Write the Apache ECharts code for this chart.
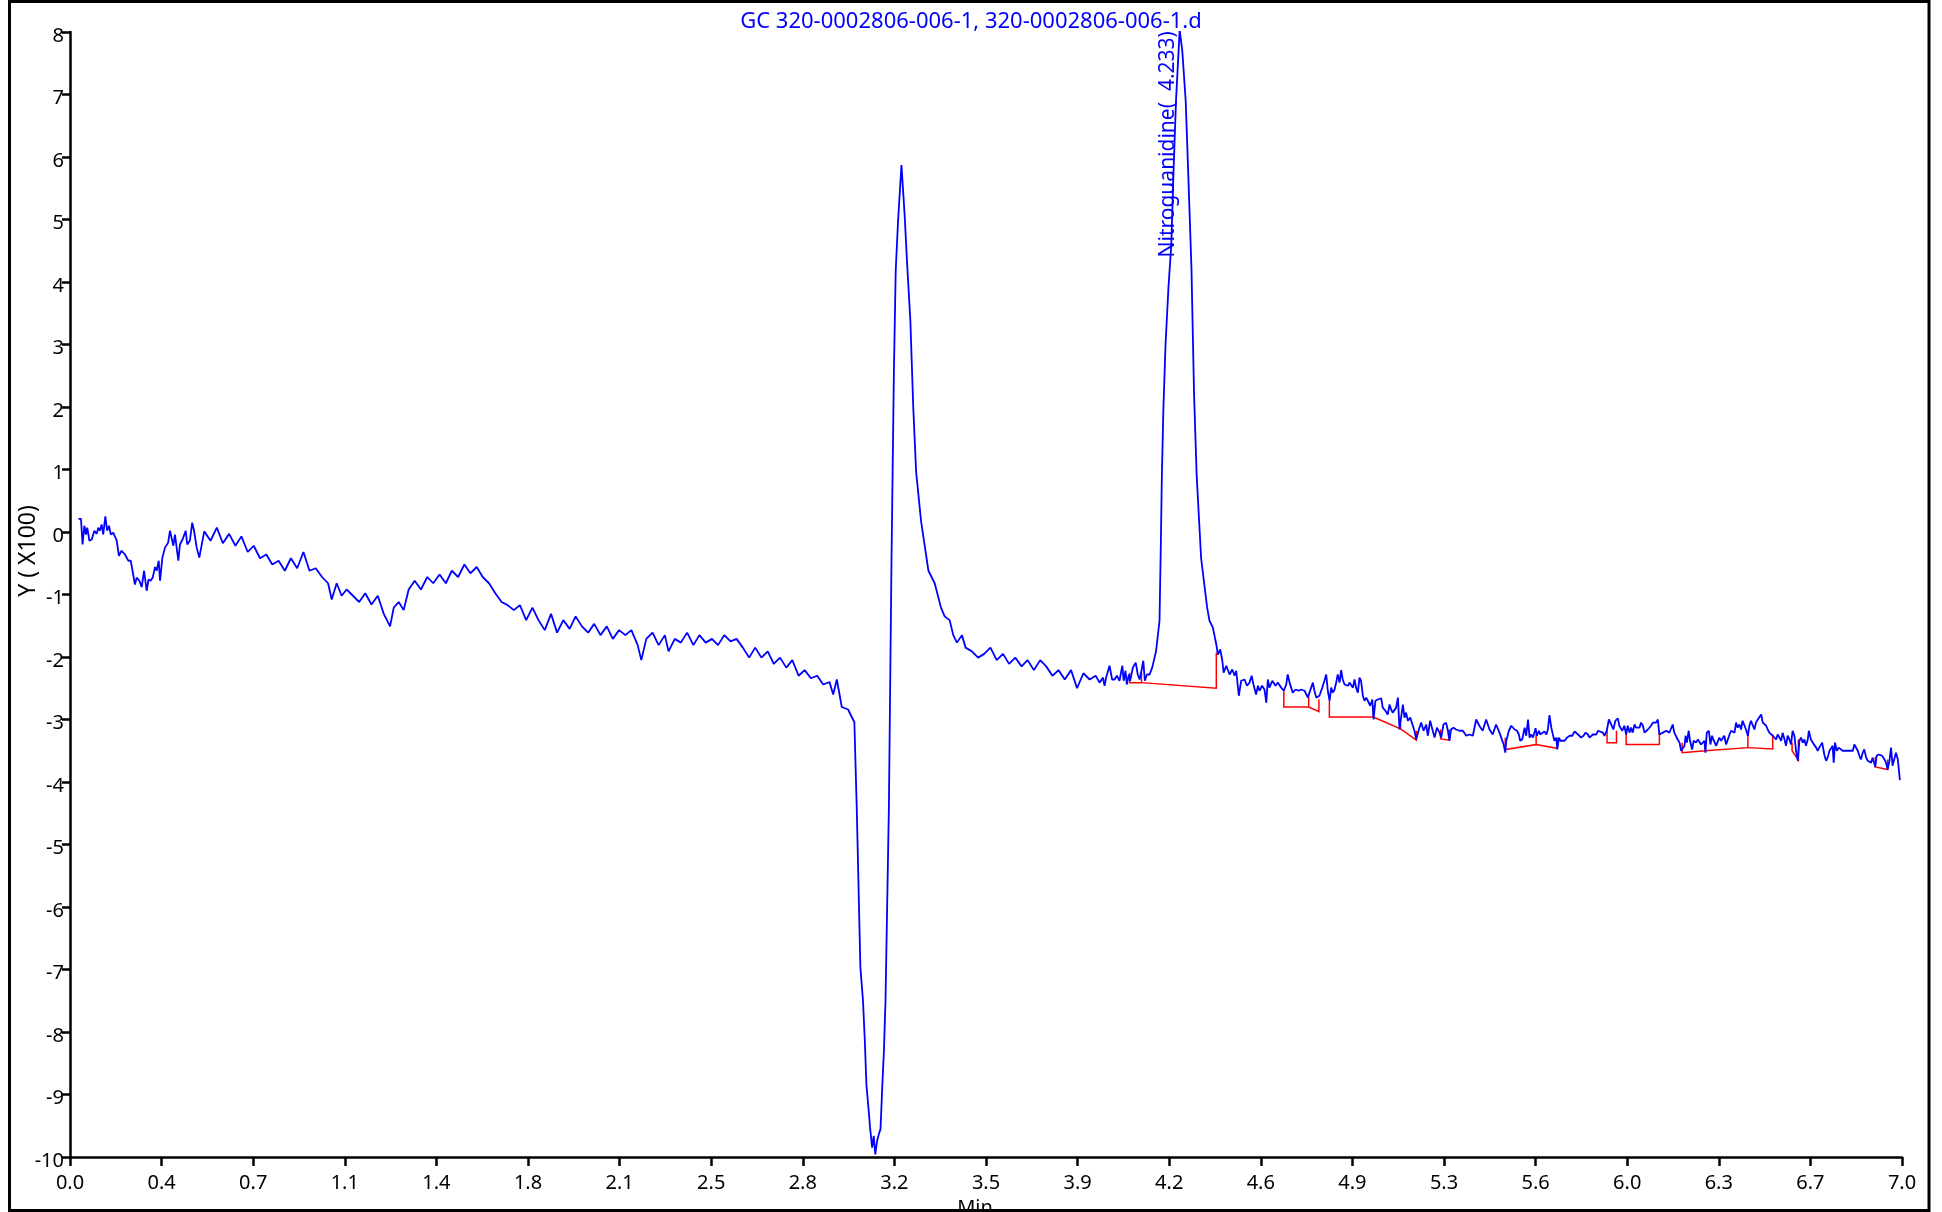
<!DOCTYPE html>
<html><head><meta charset="utf-8">
<script src="https://cdn.jsdelivr.net/npm/echarts@6/dist/echarts.min.js"></script>
<style>html,body{margin:0;padding:0;background:#fff}#c{width:1942px;height:1212px}</style>
</head><body><div id="c"></div>
<script>
const FONT = 'Noto Sans';
const titleText = 'GC 320-0002806-006-1, 320-0002806-006-1.d';
const peakLabel = 'Nitroguanidine(  4.233)';
const peakTime = 4.233;
const peakHeight = 8.03;
const xTickLabels = ['0.0','0.4','0.7','1.1','1.4','1.8','2.1','2.5','2.8','3.2','3.5','3.9','4.2','4.6','4.9','5.3','5.6','6.0','6.3','6.7','7.0'];

const traceStart = [[0.032,0.21],[0.042,0.21],[0.048,-0.20],[0.055,0.10],[0.061,-0.04],[0.066,0.07],[0.074,-0.14],[0.083,-0.12],[0.093,0.02],[0.102,-0.03],[0.108,0.07],[0.114,0.02],[0.121,0.12],[0.127,-0.04],[0.135,0.25],[0.142,0.02],[0.149,0.10],[0.156,-0.04],[0.165,-0.01],[0.178,-0.13],[0.187,-0.38],[0.197,-0.30],[0.210,-0.36],[0.223,-0.46],[0.232,-0.46],[0.239,-0.62],[0.248,-0.84],[0.255,-0.73],[0.265,-0.78],[0.274,-0.88],[0.283,-0.62],[0.293,-0.94],[0.300,-0.76],[0.308,-0.78],[0.316,-0.73],[0.325,-0.56],[0.331,-0.62],[0.339,-0.46],[0.344,-0.78],[0.353,-0.41],[0.363,-0.25],[0.375,-0.17],[0.382,0.02],[0.388,-0.09],[0.395,-0.22],[0.401,-0.04],[0.414,-0.46],[0.420,-0.20],[0.430,-0.12],[0.442,0.02],[0.448,-0.20],[0.458,-0.14],[0.467,0.15],[0.474,0.02],[0.484,-0.25],[0.494,-0.41]];

const traceDrift = [[0.513,0.01],[0.537,-0.14],[0.561,0.07],[0.584,-0.18],[0.608,-0.03],[0.632,-0.22],[0.655,-0.07],[0.679,-0.32],[0.702,-0.22],[0.726,-0.42],[0.750,-0.36],[0.773,-0.52],[0.797,-0.46],[0.821,-0.62],[0.844,-0.42],[0.868,-0.58],[0.892,-0.32],[0.915,-0.62],[0.939,-0.58],[0.963,-0.72],[0.986,-0.82],[1.000,-1.08],[1.019,-0.82],[1.038,-1.02],[1.057,-0.92],[1.081,-1.02],[1.105,-1.12],[1.128,-0.98],[1.152,-1.16],[1.176,-1.02],[1.199,-1.31],[1.223,-1.51],[1.237,-1.21],[1.256,-1.12],[1.275,-1.25],[1.294,-0.92],[1.317,-0.78],[1.341,-0.92],[1.365,-0.72],[1.388,-0.82],[1.412,-0.68],[1.436,-0.82],[1.459,-0.62],[1.483,-0.72],[1.507,-0.52],[1.530,-0.66],[1.554,-0.56],[1.577,-0.72],[1.601,-0.82],[1.625,-0.98],[1.649,-1.12],[1.672,-1.17],[1.696,-1.25],[1.719,-1.17],[1.743,-1.41],[1.767,-1.21],[1.790,-1.41],[1.814,-1.57],[1.838,-1.31],[1.861,-1.61],[1.885,-1.41],[1.909,-1.55],[1.932,-1.35],[1.956,-1.51],[1.980,-1.61],[2.003,-1.47],[2.027,-1.65],[2.051,-1.51],[2.074,-1.71],[2.098,-1.57],[2.122,-1.65],[2.145,-1.57],[2.169,-1.81],[2.183,-2.05],[2.202,-1.71],[2.226,-1.61],[2.249,-1.81],[2.273,-1.65],[2.287,-1.91],[2.311,-1.71],[2.334,-1.77],[2.358,-1.61],[2.382,-1.81],[2.405,-1.65],[2.429,-1.77],[2.453,-1.71],[2.476,-1.81],[2.500,-1.65],[2.524,-1.75],[2.547,-1.71],[2.571,-1.85],[2.595,-2.01],[2.618,-1.85],[2.642,-2.01],[2.666,-1.91],[2.689,-2.11],[2.713,-2.01],[2.737,-2.17],[2.760,-2.05],[2.784,-2.30],[2.807,-2.21],[2.831,-2.34],[2.855,-2.30],[2.878,-2.44],[2.902,-2.40],[2.916,-2.60],[2.930,-2.36],[2.949,-2.80],[2.973,-2.84],[2.987,-2.96],[2.997,-3.04]];

const traceSolvent = [[3.006,-4.39],[3.020,-6.96],[3.030,-7.5],[3.037,-8.14],[3.043,-8.84],[3.053,-9.32],[3.057,-9.53],[3.065,-9.85],[3.071,-9.66],[3.077,-9.96],[3.084,-9.74],[3.091,-9.63],[3.097,-9.55],[3.104,-8.84],[3.110,-8.3],[3.116,-7.5],[3.129,-4.39],[3.139,-0.42],[3.148,2.54],[3.155,4.18],[3.164,4.98],[3.177,5.87],[3.189,5.08],[3.198,4.34],[3.211,3.38],[3.222,2.0],[3.233,0.96],[3.252,0.17],[3.280,-0.62],[3.304,-0.82],[3.328,-1.21],[3.342,-1.35],[3.361,-1.41],[3.375,-1.65],[3.389,-1.77],[3.408,-1.65],[3.422,-1.85],[3.446,-1.91],[3.470,-2.01],[3.493,-1.95],[3.517,-1.85],[3.541,-2.05],[3.565,-1.95],[3.588,-2.11],[3.612,-2.01],[3.636,-2.15],[3.659,-2.05],[3.683,-2.21],[3.707,-2.05],[3.730,-2.15],[3.754,-2.30],[3.777,-2.21],[3.801,-2.36],[3.825,-2.21],[3.848,-2.50],[3.872,-2.26],[3.896,-2.36],[3.919,-2.30]];

const tracePeak = [[3.934,-2.41],[3.947,-2.33],[3.953,-2.46],[3.959,-2.33],[3.972,-2.14],[3.982,-2.36],[3.991,-2.36],[4.000,-2.30],[4.010,-2.38],[4.021,-2.14],[4.026,-2.38],[4.033,-2.22],[4.038,-2.44],[4.046,-2.28],[4.051,-2.38],[4.061,-2.17],[4.072,-2.09],[4.080,-2.28],[4.087,-2.36],[4.094,-2.22],[4.101,-2.06],[4.107,-2.38],[4.115,-2.28],[4.125,-2.28],[4.135,-2.17],[4.144,-2.01],[4.150,-1.90],[4.157,-1.64],[4.163,-1.42],[4.168,-0.2],[4.172,0.9],[4.178,2.0],[4.186,3.0],[4.197,3.9],[4.208,4.6],[4.217,5.83],[4.226,6.9],[4.240,8.03],[4.250,7.7],[4.263,6.9],[4.272,5.83],[4.285,4.23],[4.295,2.2],[4.305,0.9],[4.322,-0.42],[4.345,-1.21],[4.354,-1.42],[4.367,-1.53],[4.373,-1.56],[4.380,-1.80],[4.386,-1.96],[4.395,-1.88],[4.403,-2.06],[4.408,-2.25],[4.418,-2.14],[4.431,-2.28],[4.441,-2.20],[4.450,-2.30],[4.456,-2.22],[4.466,-2.62],[4.475,-2.38],[4.488,-2.36],[4.497,-2.46],[4.507,-2.41],[4.515,-2.30],[4.522,-2.44],[4.532,-2.60],[4.539,-2.46],[4.545,-2.54],[4.555,-2.46],[4.564,-2.52],[4.571,-2.73],[4.577,-2.36],[4.583,-2.49],[4.594,-2.38],[4.606,-2.46],[4.615,-2.41],[4.628,-2.49],[4.638,-2.54],[4.647,-2.44],[4.653,-2.28],[4.660,-2.41],[4.666,-2.49],[4.672,-2.57],[4.683,-2.52],[4.695,-2.54],[4.704,-2.52],[4.717,-2.54],[4.723,-2.54],[4.730,-2.65],[4.736,-2.57],[4.749,-2.41],[4.755,-2.54],[4.762,-2.65],[4.768,-2.68],[4.774,-2.62],[4.785,-2.49],[4.793,-2.38],[4.800,-2.28],[4.806,-2.54],[4.813,-2.70],[4.819,-2.49],[4.825,-2.57],[4.832,-2.52],[4.838,-2.41],[4.844,-2.28],[4.851,-2.41],[4.857,-2.21],[4.863,-2.36],[4.870,-2.44],[4.876,-2.41],[4.883,-2.46],[4.889,-2.41],[4.895,-2.44],[4.902,-2.49],[4.908,-2.36],[4.914,-2.49],[4.921,-2.57],[4.927,-2.33],[4.933,-2.38],[4.940,-2.62],[4.946,-2.70],[4.953,-2.65],[4.959,-2.70],[4.968,-2.78],[4.976,-2.68],[4.981,-3.00],[4.988,-2.70],[4.997,-2.68],[5.010,-2.66],[5.016,-2.81],[5.026,-2.86],[5.035,-2.92],[5.042,-2.76],[5.048,-2.84],[5.054,-2.89],[5.061,-2.92],[5.067,-2.81],[5.074,-2.65],[5.080,-3.16],[5.086,-2.97],[5.093,-2.76],[5.099,-2.97],[5.105,-2.89],[5.112,-3.02],[5.121,-2.97],[5.131,-3.10],[5.137,-3.18],[5.144,-3.32],[5.154,-3.16],[5.163,-3.05],[5.172,-3.18],[5.182,-3.08],[5.188,-3.26],[5.197,-3.02],[5.207,-3.18],[5.214,-3.29],[5.223,-3.13],[5.233,-3.21],[5.239,-3.29],[5.248,-3.08],[5.258,-3.05],[5.265,-3.18],[5.271,-3.34],[5.277,-3.16],[5.286,-3.13],[5.296,-3.16],[5.309,-3.18],[5.322,-3.18],[5.335,-3.26],[5.347,-3.24],[5.360,-3.26],[5.373,-3.00],[5.385,-3.10],[5.398,-3.18],[5.411,-3.00],[5.424,-3.16],[5.436,-3.24],[5.449,-3.08],[5.462,-3.21]];

const traceTail = [[5.469,-3.21],[5.478,-3.40],[5.484,-3.53],[5.488,-3.34],[5.498,-3.18],[5.507,-3.10],[5.513,-3.08],[5.520,-3.16],[5.529,-3.18],[5.536,-3.24],[5.541,-3.34],[5.549,-3.32],[5.558,-3.13],[5.564,-3.26],[5.571,-3.00],[5.577,-3.29],[5.583,-3.24],[5.590,-3.29],[5.600,-3.14],[5.605,-3.26],[5.613,-3.18],[5.618,-3.24],[5.625,-3.21],[5.634,-3.19],[5.641,-3.24],[5.647,-3.16],[5.653,-2.93],[5.660,-3.13],[5.666,-3.24],[5.672,-3.34],[5.679,-3.29],[5.683,-3.48],[5.689,-3.29],[5.695,-3.34],[5.702,-3.32],[5.711,-3.34],[5.720,-3.29],[5.730,-3.26],[5.740,-3.26],[5.749,-3.19],[5.755,-3.21],[5.762,-3.24],[5.768,-3.26],[5.774,-3.29],[5.783,-3.26],[5.791,-3.21],[5.800,-3.24],[5.806,-3.29],[5.812,-3.29],[5.819,-3.24],[5.825,-3.21],[5.832,-3.24],[5.838,-3.18],[5.844,-3.21],[5.857,-3.21],[5.863,-3.26],[5.872,-3.18],[5.880,-3.00],[5.889,-3.08],[5.897,-3.16],[5.905,-3.02],[5.914,-2.98],[5.920,-3.10],[5.931,-3.18],[5.939,-3.10],[5.946,-3.24],[5.952,-3.10],[5.959,-3.21],[5.965,-3.13],[5.971,-3.21],[5.978,-3.08],[5.984,-3.13],[5.990,-3.16],[5.997,-3.13],[6.003,-3.05],[6.010,-3.10],[6.016,-3.21],[6.022,-3.18],[6.029,-3.16],[6.035,-3.13],[6.041,-3.10],[6.048,-3.05],[6.054,-3.08],[6.060,-3.05],[6.067,-3.00],[6.073,-3.24],[6.080,-3.24],[6.086,-3.21],[6.092,-3.21],[6.099,-3.18],[6.111,-3.21],[6.118,-3.18],[6.124,-3.08],[6.130,-3.21],[6.137,-3.24],[6.143,-3.32],[6.150,-3.37],[6.156,-3.50],[6.162,-3.53],[6.169,-3.42],[6.173,-3.26],[6.178,-3.37],[6.185,-3.18],[6.190,-3.34],[6.198,-3.48],[6.204,-3.34],[6.213,-3.37],[6.220,-3.32],[6.226,-3.32],[6.232,-3.40],[6.239,-3.42],[6.245,-3.34],[6.249,-3.53],[6.254,-3.21],[6.262,-3.18],[6.268,-3.40],[6.274,-3.26],[6.279,-3.32],[6.290,-3.42],[6.296,-3.40],[6.302,-3.29],[6.309,-3.34],[6.315,-3.37],[6.321,-3.26],[6.328,-3.40],[6.334,-3.37],[6.341,-3.24],[6.347,-3.18],[6.353,-3.16],[6.360,-3.21],[6.366,-3.05],[6.372,-3.13],[6.379,-3.08],[6.385,-3.16],[6.391,-3.02],[6.398,-3.05],[6.404,-3.16],[6.411,-3.26],[6.417,-3.10],[6.423,-3.02],[6.430,-3.00],[6.436,-3.16],[6.442,-3.05],[6.449,-3.00],[6.455,-2.97],[6.462,-2.92],[6.468,-3.05],[6.474,-3.02],[6.481,-3.10],[6.487,-3.16],[6.493,-3.21],[6.500,-3.21],[6.506,-3.26],[6.512,-3.24],[6.519,-3.32],[6.525,-3.24],[6.532,-3.29],[6.538,-3.34],[6.544,-3.21],[6.551,-3.32],[6.557,-3.42],[6.563,-3.26],[6.570,-3.32],[6.576,-3.40],[6.582,-3.18],[6.589,-3.26],[6.595,-3.50],[6.602,-3.66],[6.608,-3.34],[6.614,-3.29],[6.621,-3.37],[6.627,-3.32],[6.633,-3.42],[6.640,-3.32],[6.644,-3.18],[6.652,-3.32],[6.659,-3.37],[6.665,-3.40],[6.672,-3.45],[6.678,-3.50],[6.684,-3.45],[6.695,-3.37],[6.703,-3.56],[6.710,-3.66],[6.716,-3.61],[6.723,-3.50],[6.729,-3.53],[6.735,-3.42],[6.739,-3.69],[6.744,-3.37],[6.751,-3.50],[6.758,-3.45],[6.763,-3.42],[6.773,-3.50],[6.786,-3.50],[6.799,-3.50],[6.805,-3.48],[6.812,-3.50],[6.818,-3.40],[6.824,-3.42],[6.831,-3.50],[6.837,-3.58],[6.843,-3.64],[6.850,-3.53],[6.856,-3.48],[6.863,-3.61],[6.869,-3.66],[6.875,-3.64],[6.882,-3.69],[6.888,-3.61],[6.894,-3.58],[6.898,-3.76],[6.903,-3.58],[6.911,-3.56],[6.916,-3.53],[6.924,-3.58],[6.929,-3.56],[6.936,-3.66],[6.942,-3.74],[6.945,-3.80],[6.952,-3.66],[6.958,-3.45],[6.964,-3.74],[6.971,-3.72],[6.977,-3.53],[6.984,-3.64],[6.992,-3.97]];

const baselines = [
  [[4.049,-2.25],[4.049,-2.41],[4.094,-2.41],[4.094,-2.25]],
  [[4.094,-2.41],[4.380,-2.50],[4.380,-1.93]],
  [[4.638,-2.54],[4.638,-2.80],[4.733,-2.80],[4.733,-2.64]],
  [[4.733,-2.80],[4.772,-2.875],[4.772,-2.68]],
  [[4.812,-2.70],[4.812,-2.96],[4.980,-2.96],[4.980,-2.78]],
  [[4.980,-2.96],[5.084,-3.15],[5.084,-3.08]],
  [[5.084,-3.15],[5.144,-3.33],[5.144,-3.18]],
  [[5.237,-3.16],[5.237,-3.31],[5.271,-3.33],[5.271,-3.16]],
  [[5.484,-3.29],[5.484,-3.48],[5.602,-3.40],[5.602,-3.24]],
  [[5.602,-3.40],[5.682,-3.46],[5.682,-3.29]],
  [[5.873,-3.18],[5.873,-3.37],[5.909,-3.37],[5.909,-3.18]],
  [[5.946,-3.18],[5.946,-3.40],[6.073,-3.40],[6.073,-3.21]],
  [[6.160,-3.37],[6.160,-3.53],[6.248,-3.50],[6.248,-3.34]],
  [[6.248,-3.50],[6.411,-3.45],[6.411,-3.24]],
  [[6.411,-3.45],[6.506,-3.47],[6.506,-3.24]],
  [[6.580,-3.37],[6.580,-3.50],[6.604,-3.65],[6.604,-3.32]],
  [[6.898,-3.60],[6.898,-3.76],[6.945,-3.80],[6.945,-3.64]]
];

const trace = [].concat(traceStart, traceDrift, traceSolvent, tracePeak, traceTail);

const chart = echarts.init(document.getElementById('c'), null, {renderer: 'canvas'});
const axisColor = '#000';
chart.setOption({
  animation: false,
  backgroundColor: '#fff',
  title: {
    text: titleText, left: 966, top: 6, textAlign: 'center',
    textStyle: {color: '#0000ff', fontSize: 22, fontWeight: 'normal', fontFamily: FONT}
  },
  grid: {left: 70, top: 32, width: 1832, height: 1125, containLabel: false, outerBoundsMode: 'none'},
  xAxis: {
    type: 'value', min: 0, max: 7, interval: 0.35,
    name: 'Min', nameLocation: 'middle', nameGap: 34,
    nameTextStyle: {fontSize: 20, color: '#000', fontFamily: FONT, padding: [0, 22, 0, 0]},
    axisLine: {show: true, onZero: false, lineStyle: {color: axisColor, width: 2.5}},
    axisTick: {show: true, length: 9, inside: false, lineStyle: {color: axisColor, width: 2.5}},
    axisLabel: {fontSize: 20, color: '#000', fontFamily: FONT, margin: 16,
      formatter: v => xTickLabels[Math.round(v / 0.35)]},
    splitLine: {show: false}
  },
  yAxis: {
    type: 'value', min: -10, max: 8, interval: 1,
    axisLine: {show: true, onZero: false, lineStyle: {color: axisColor, width: 2.5}},
    axisTick: {show: true, length: 8, inside: false, lineStyle: {color: axisColor, width: 2.5}},
    axisLabel: {fontSize: 20, color: '#000', fontFamily: FONT, margin: 6, verticalAlign: 'top', lineHeight: 8},
    splitLine: {show: false}
  },
  series: [
    {
      type: 'lines', coordinateSystem: 'cartesian2d', polyline: true, z: 1,
      lineStyle: {color: '#ff0000', width: 1.5, opacity: 1},
      data: baselines.map(c => ({coords: c}))
    },
    {
      type: 'line', data: trace, showSymbol: false, z: 2,
      lineStyle: {color: '#0000ff', width: 1.8}
    }
  ]
});

const pk = chart.convertToPixel({gridIndex: 0}, [peakTime, peakHeight]);
chart.setOption({
  graphic: [
    {type: 'rect', shape: {x: 9.5, y: 1.5, width: 1919.5, height: 1209},
     style: {fill: 'none', stroke: '#000', lineWidth: 3}, silent: true},
    {type: 'text', x: 28, y: 551, rotation: Math.PI / 2,
     style: {text: 'Y ( X100)', fontSize: 23, fontFamily: FONT, fill: '#000', align: 'center', verticalAlign: 'middle'}},
    {type: 'text', x: pk[0] - 10, y: pk[1] + 1, rotation: Math.PI / 2,
     style: {text: peakLabel, fontSize: 21, fontFamily: FONT, fill: '#0000ff', align: 'right', verticalAlign: 'middle'}}
  ]
});
</script>
</body></html>
